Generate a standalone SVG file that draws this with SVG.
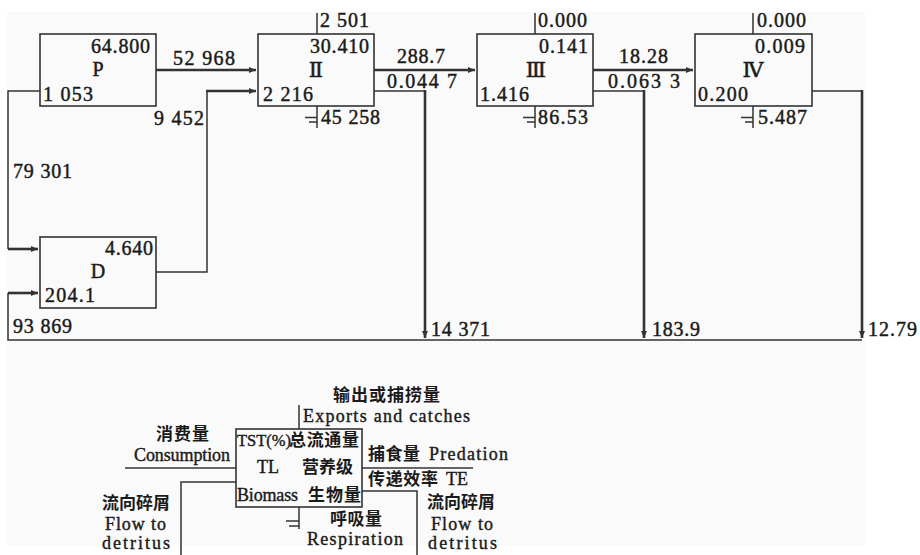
<svg xmlns="http://www.w3.org/2000/svg" width="920" height="555" viewBox="0 0 920 555">
<style>
.n{font-family:"Liberation Serif","DejaVu Serif","Noto Sans CJK SC",serif;font-size:20px;fill:#1a1a1a;stroke:#1a1a1a;stroke-width:0.45}
.r{font-family:"DejaVu Serif","Liberation Serif","Noto Sans CJK SC",serif;font-size:21px;fill:#1a1a1a;stroke:#1a1a1a;stroke-width:0.5}
.l{font-family:"Liberation Serif","DejaVu Serif",serif;font-size:18px;fill:#1a1a1a;stroke:#1a1a1a;stroke-width:0.4}
.c{font-family:"Noto Sans CJK SC","Noto Sans CJK JP",sans-serif;font-weight:bold;font-size:17px;fill:#1a1a1a}
.box{fill:none;stroke:#333;stroke-width:1.6}
.thin{fill:none;stroke:#333;stroke-width:1.5}
.thick{fill:none;stroke:#333;stroke-width:2.6}
</style>
<defs>
<marker id="ar" markerUnits="userSpaceOnUse" markerWidth="8" markerHeight="7" refX="7" refY="3.5" orient="auto">
<path d="M0,0.5 L7,3.5 L0,6.5 z" fill="#333"/>
</marker>
</defs>
<rect x="0" y="0" width="920" height="555" fill="#ffffff"/>
<rect x="7" y="12" width="858" height="533" fill="#fafafa"/>

<g id="connectors">
<path class="thick" d="M156,70 H256" marker-end="url(#ar)"/>
<path class="thin" d="M40,91 H8 V249"/>
<path class="thick" d="M8,249 H38" marker-end="url(#ar)"/>
<path class="thin" d="M156,272 H207 V91"/>
<path class="thick" d="M206,91 H256" marker-end="url(#ar)"/>
<path class="thin" d="M862,340 H8 V293"/>
<path class="thick" d="M8,293 H38" marker-end="url(#ar)"/>
<path class="thick" d="M374,70 H475" marker-end="url(#ar)"/>
<path class="thick" d="M593,70 H693" marker-end="url(#ar)"/>
<path class="thin" d="M374,91 H425"/>
<path class="thick" d="M425,90 V338" marker-end="url(#ar)"/>
<path class="thin" d="M593,91 H644"/>
<path class="thick" d="M644,90 V338" marker-end="url(#ar)"/>
<path class="thin" d="M812,91 H862"/>
<path class="thick" d="M862,90 V338" marker-end="url(#ar)"/>
<path class="thin" d="M317,13 V34 M535,13 V34 M753,13 V34"/>
<path class="thin" d="M317,106 V128 M305,117.5 H317 M309,122 H317"/>
<path class="thin" d="M535,106 V128 M523,117.5 H535 M527,122 H535"/>
<path class="thin" d="M753,106 V128 M741,117.5 H753 M745,122 H753"/>
</g>

<g id="node-P">
<rect class="box" x="40" y="34" width="116" height="72"/>
<text class="n" x="91" y="53" textLength="59" lengthAdjust="spacing">64.800</text>
<text class="n" x="98" y="76" text-anchor="middle">P</text>
<text class="n" x="43" y="101" textLength="50" lengthAdjust="spacing">1 053</text>
</g>
<g id="node-D">
<rect class="box" x="40" y="237" width="116" height="71"/>
<text class="n" x="105" y="255" textLength="48" lengthAdjust="spacing">4.640</text>
<text class="n" x="98" y="278" text-anchor="middle">D</text>
<text class="n" x="45" y="302" textLength="50" lengthAdjust="spacing">204.1</text>
</g>
<g id="node-II">
<rect class="box" x="258" y="34" width="116" height="72"/>
<text class="n" x="310" y="53" textLength="59" lengthAdjust="spacing">30.410</text>
<text class="r" x="316" y="77" text-anchor="middle">Ⅱ</text>
<text class="n" x="263" y="101" textLength="50" lengthAdjust="spacing">2 216</text>
</g>
<g id="node-III">
<rect class="box" x="477" y="34" width="116" height="72"/>
<text class="n" x="539" y="53" textLength="49" lengthAdjust="spacing">0.141</text>
<text class="r" x="536" y="77" text-anchor="middle">Ⅲ</text>
<text class="n" x="480" y="101" textLength="49" lengthAdjust="spacing">1.416</text>
</g>
<g id="node-IV">
<rect class="box" x="695" y="34" width="117" height="72"/>
<text class="n" x="755" y="53" textLength="50" lengthAdjust="spacing">0.009</text>
<text class="r" x="753" y="77" text-anchor="middle">Ⅳ</text>
<text class="n" x="698" y="101" textLength="50" lengthAdjust="spacing">0.200</text>
</g>

<g id="flow-labels">
<text class="n" x="173" y="65" textLength="62" lengthAdjust="spacing">52 968</text>
<text class="n" x="154" y="125" textLength="50" lengthAdjust="spacing">9 452</text>
<text class="n" x="13" y="178" textLength="59" lengthAdjust="spacing">79 301</text>
<text class="n" x="13" y="333" textLength="59" lengthAdjust="spacing">93 869</text>
<text class="n" x="320" y="27" textLength="49" lengthAdjust="spacing">2 501</text>
<text class="n" x="321" y="124" textLength="59" lengthAdjust="spacing">45 258</text>
<text class="n" x="397" y="63" textLength="48" lengthAdjust="spacing">288.7</text>
<text class="n" x="387" y="88" textLength="70" lengthAdjust="spacing">0.044 7</text>
<text class="n" x="538" y="27" textLength="49" lengthAdjust="spacing">0.000</text>
<text class="n" x="538" y="124" textLength="50" lengthAdjust="spacing">86.53</text>
<text class="n" x="619" y="63" textLength="49" lengthAdjust="spacing">18.28</text>
<text class="n" x="608" y="88" textLength="72" lengthAdjust="spacing">0.063 3</text>
<text class="n" x="757" y="27" textLength="49" lengthAdjust="spacing">0.000</text>
<text class="n" x="758" y="124" textLength="49" lengthAdjust="spacing">5.487</text>
<text class="n" x="431" y="336" textLength="59" lengthAdjust="spacing">14 371</text>
<text class="n" x="652" y="336" textLength="48" lengthAdjust="spacing">183.9</text>
<text class="n" x="868" y="336" textLength="49" lengthAdjust="spacing">12.79</text>
</g>

<g id="legend">
<rect class="box" x="236" y="429" width="126" height="78"/>
<path class="thin" d="M299,405 V429"/>
<path class="thin" d="M125,468 H236"/>
<path class="thin" d="M362,468 H473"/>
<path class="thin" d="M362,491 H417 V555"/>
<path class="thin" d="M236,482 H181 V555"/>
<path class="thin" d="M299,507 V529 M286,521 H299 M289,526 H299"/>
<text class="c" x="333" y="401" textLength="107" lengthAdjust="spacing">输出或捕捞量</text>
<text class="l" x="303" y="422" textLength="167" lengthAdjust="spacing">Exports and catches</text>
<text class="c" x="156" y="440" textLength="53" lengthAdjust="spacing">消费量</text>
<text class="l" x="134" y="461" textLength="96" lengthAdjust="spacing">Consumption</text>
<text class="l" x="237" y="446" style="font-size:16.5px">TST(%)</text>
<text class="c" x="289" y="446" textLength="70" lengthAdjust="spacing">总流通量</text>
<text class="l" x="257" y="473">TL</text>
<text class="c" x="302" y="473" textLength="51" lengthAdjust="spacing">营养级</text>
<text class="l" x="237" y="501" textLength="61" lengthAdjust="spacing">Biomass</text>
<text class="c" x="308" y="501" textLength="53" lengthAdjust="spacing">生物量</text>
<text class="c" x="368" y="460" textLength="52" lengthAdjust="spacing">捕食量</text>
<text class="l" x="429" y="460" textLength="79" lengthAdjust="spacing">Predation</text>
<text class="c" x="368" y="485" textLength="70" lengthAdjust="spacing">传递效率</text>
<text class="l" x="446" y="485">TE</text>
<text class="c" x="427" y="508" textLength="68" lengthAdjust="spacing">流向碎屑</text>
<text class="l" x="431" y="530" textLength="62" lengthAdjust="spacing">Flow to</text>
<text class="l" x="428" y="549" textLength="69" lengthAdjust="spacing">detritus</text>
<text class="c" x="102" y="509" textLength="68" lengthAdjust="spacing">流向碎屑</text>
<text class="l" x="105" y="530" textLength="61" lengthAdjust="spacing">Flow to</text>
<text class="l" x="102" y="549" textLength="68" lengthAdjust="spacing">detritus</text>
<text class="c" x="330" y="525" textLength="52" lengthAdjust="spacing">呼吸量</text>
<text class="l" x="307" y="545" textLength="96" lengthAdjust="spacing">Respiration</text>
</g>
</svg>
